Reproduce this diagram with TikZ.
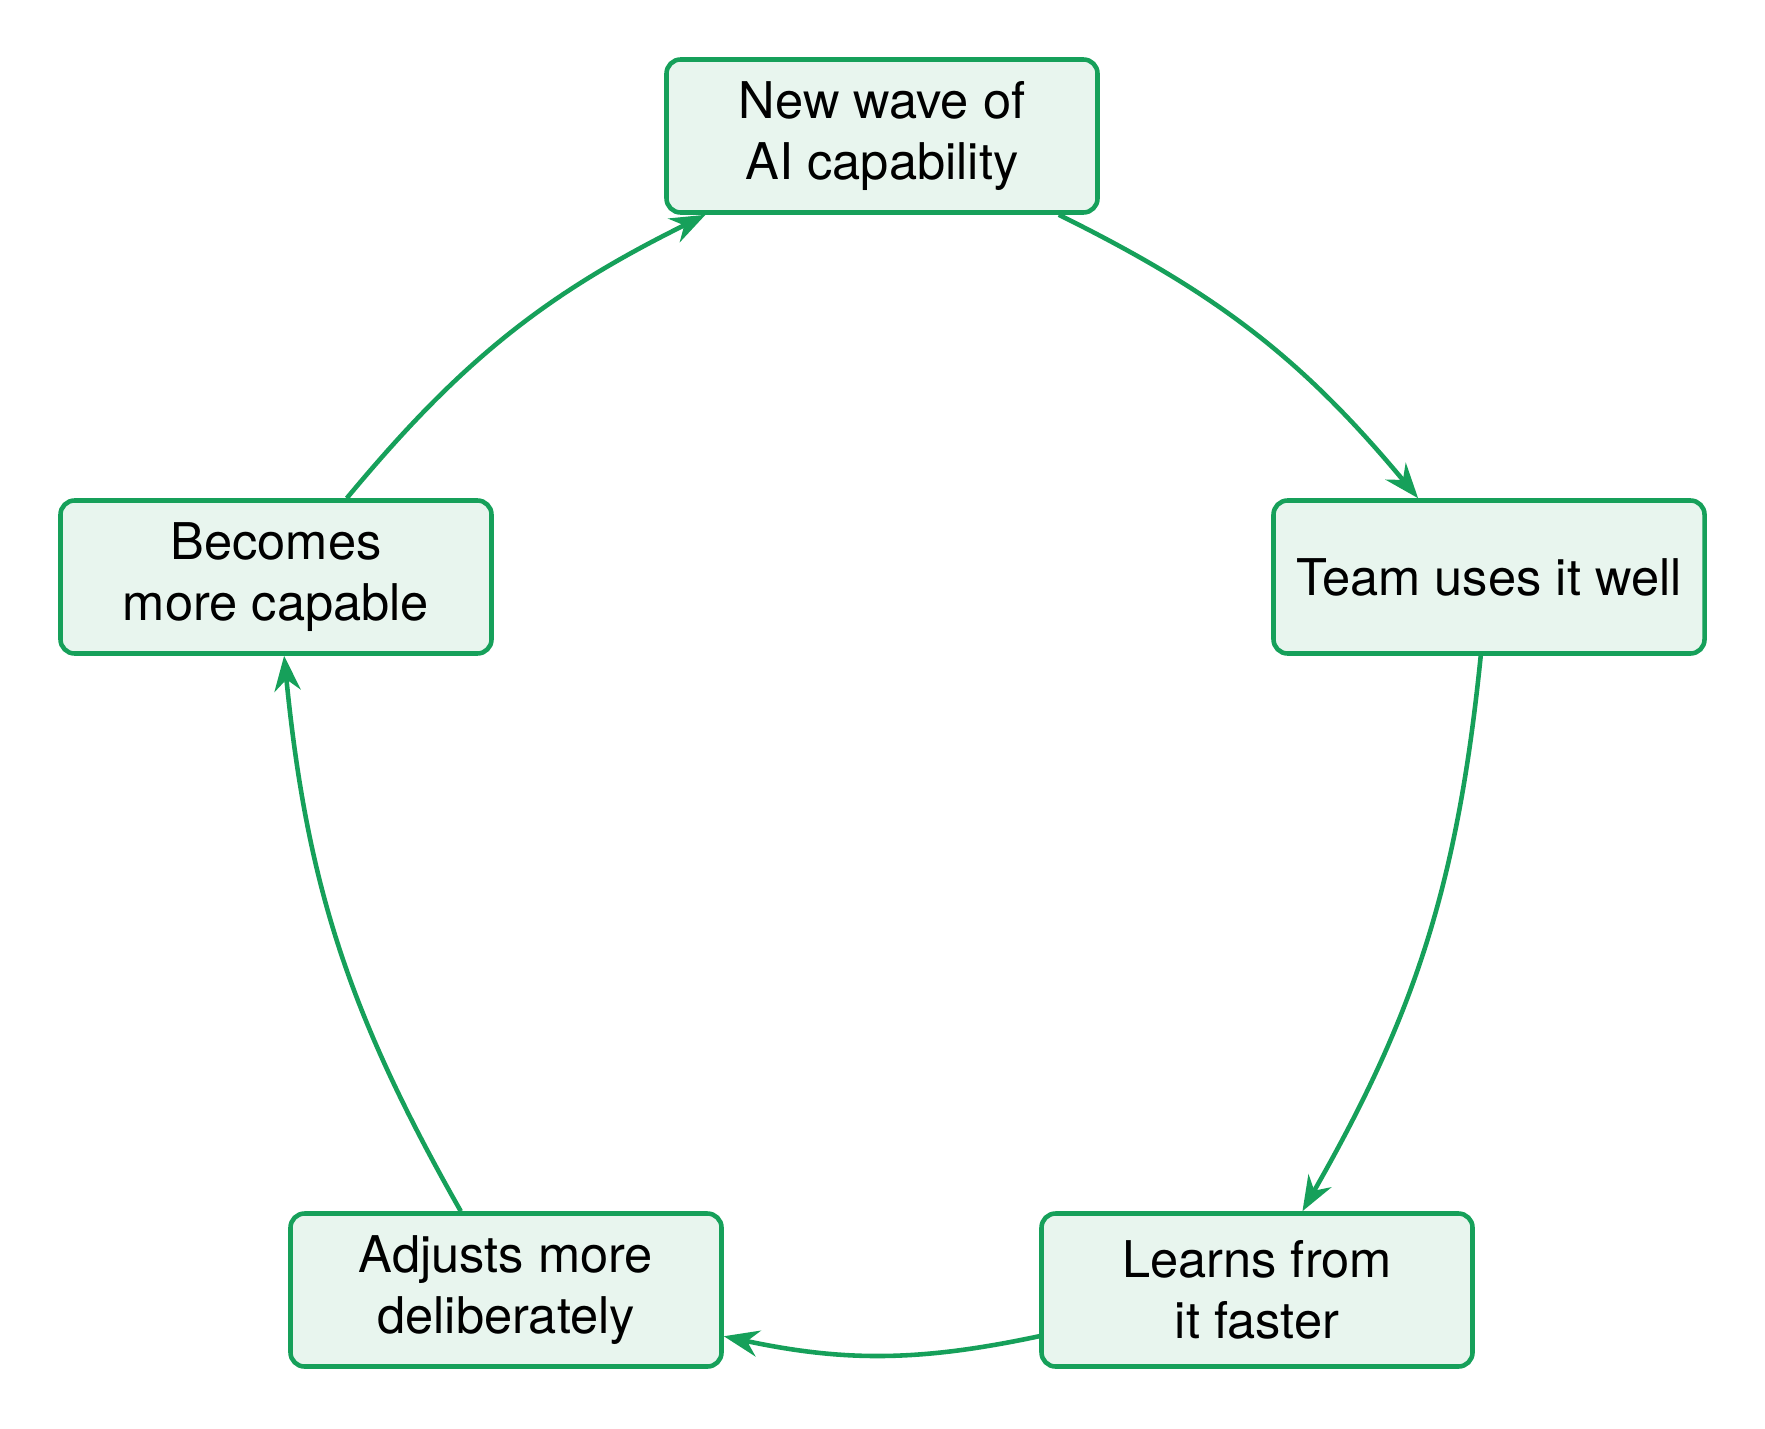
\documentclass[tikz,border=0pt]{standalone}
\usepackage{fontspec}
\setmainfont{TeX Gyre Heros}
\usetikzlibrary{arrows.meta, positioning}

\definecolor{cyclegreen}{RGB}{22,160,90}

\begin{document}
\begin{tikzpicture}[
    stage/.style={draw=cyclegreen, fill=cyclegreen!10, line width=1.3pt, rounded corners=4pt,
        minimum width=4.31cm, minimum height=1.53cm, align=center,
        font=\fontsize{14.4}{17.2}\selectfont},
    flow/.style={draw=cyclegreen, line width=1.3pt, -{Stealth[length=10pt, width=7.5pt]}, bend left=12}
]
    \useasboundingbox (0,0) rectangle (17.65,14.28);

    % Define the stages of the cycle
    \node[stage] (wave) at (8.82,12.92) {New wave of\\AI capability};
    \node[stage] (uses) at (14.89,8.51) {Team uses it well};
    \node[stage] (learns) at (12.57,1.38) {Learns from\\it faster};
    \node[stage] (adjusts) at (5.06,1.38) {Adjusts more\\deliberately};
    \node[stage] (capable) at (2.76,8.51) {Becomes\\more capable};

    % Draw the arrows round the cycle
    \draw[flow] (wave) to (uses);
    \draw[flow] (uses) to (learns);
    \draw[flow] (learns) to (adjusts);
    \draw[flow] (adjusts) to (capable);
    \draw[flow] (capable) to (wave);

\end{tikzpicture}
\end{document}
